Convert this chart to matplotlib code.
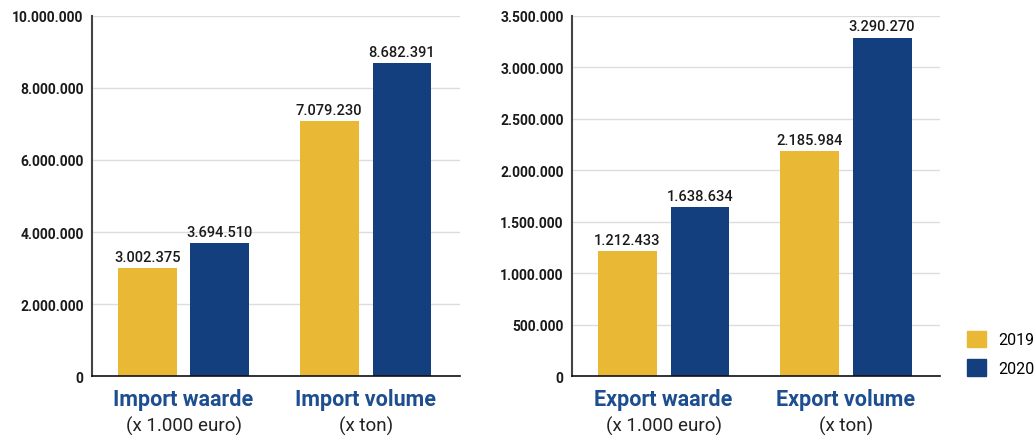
import matplotlib.pyplot as plt
from matplotlib.patches import Patch

plt.rcParams['font.family'] = ['Roboto', 'DejaVu Sans']

years = ['2019', '2020']
import_cats = ['Import waarde', 'Import volume']
import_units = ['(x 1.000 euro)', '(x ton)']
import_2019 = [3002375, 7079230]
import_2020 = [3694510, 8682391]

export_cats = ['Export waarde', 'Export volume']
export_units = ['(x 1.000 euro)', '(x ton)']
export_2019 = [1212433, 2185984]
export_2020 = [1638634, 3290270]

c19 = '#E9B936'
c20 = '#133F7E'
blue_txt = '#1D4E8F'


def dots(v):
    return f'{int(v):,}'.replace(',', '.')


def draw(ax, cats, units, v19, v20, ymax, step):
    x = range(len(cats))
    w = 0.324
    off = 0.2
    b1 = ax.bar([i - off for i in x], v19, w, color=c19, zorder=2)
    b2 = ax.bar([i + off for i in x], v20, w, color=c20, zorder=2)
    for bars in (b1, b2):
        for b in bars:
            ax.text(b.get_x() + b.get_width() / 2, b.get_height() + ymax * 0.012,
                    dots(b.get_height()), ha='center', va='bottom',
                    fontsize=10.5, fontweight='medium', color='#1a1a1a')
    ax.set_xlim(-0.503, 1.519)
    ax.set_ylim(0, ymax)
    ticks = list(range(0, ymax + 1, step))
    ax.set_yticks(ticks)
    ax.set_yticklabels([dots(t) for t in ticks], fontsize=10, fontweight='bold',
                       color='#1a1a1a')
    ax.tick_params(axis='y', length=0, pad=6)
    ax.set_xticks([])
    ax.yaxis.grid(True, color='#dddddd', linewidth=1, zorder=0)
    for s in ('top', 'right'):
        ax.spines[s].set_visible(False)
    ax.spines['left'].set_color('#444444')
    ax.spines['left'].set_linewidth(1.5)
    ax.spines['bottom'].set_color('#111111')
    ax.spines['bottom'].set_linewidth(1.2)
    tr = ax.get_xaxis_transform()
    for i in x:
        ax.text(i, -0.065, cats[i], transform=tr, ha='center', va='center',
                fontsize=15.5, fontweight='bold', color=blue_txt)
        ax.text(i, -0.137, units[i], transform=tr, ha='center', va='center',
                fontsize=13.5, color='#222222')


fig = plt.figure(figsize=(10.35, 4.39), dpi=100)
ax1 = fig.add_axes([0.0889, 0.1412, 0.3556, 0.8201])
ax2 = fig.add_axes([0.5527, 0.1412, 0.3556, 0.8201])

draw(ax1, import_cats, import_units, import_2019, import_2020, 10000000, 2000000)
draw(ax2, export_cats, export_units, export_2019, export_2020, 3500000, 500000)

handles = [Patch(color=c19), Patch(color=c20)]
fig.legend(handles, years, loc='center left', bbox_to_anchor=(0.92, 0.193),
           frameon=False, fontsize=11.5, handlelength=1.2, handleheight=1.2,
           labelspacing=0.75, handletextpad=0.8)

fig.savefig('out.png', dpi=100)
